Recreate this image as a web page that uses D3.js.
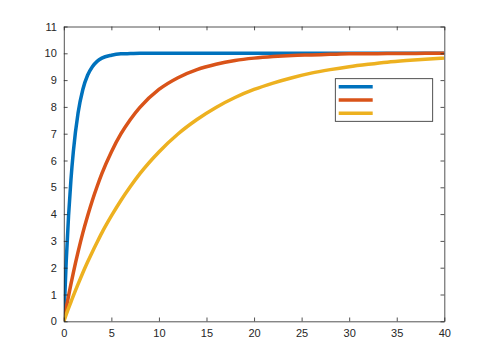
<!DOCTYPE html>
<html><head><meta charset="utf-8">
<script src="https://cdn.jsdelivr.net/npm/d3@7"></script>
<style>body{margin:0;background:#fff}svg{display:block}</style>
</head><body>
<script>
const tValues = [0,0.25,0.5,0.75,1,1.5,2,2.5,3,3.5,4,5,6,7,8,10,12,14,16,18,20,22,24,26,28,30,32,34,36,38,40];
const blueValues = [0,2.21,3.93,5.28,6.32,7.77,8.65,9.18,9.50,9.70,9.82,9.93,9.98,9.99,10,10,10,10,10,10,10,10,10,10,10,10,10,10,10,10,10];
const redValues = [0,0.49,0.95,1.39,1.81,2.59,3.30,3.93,4.51,5.03,5.51,6.32,6.99,7.53,7.98,8.65,9.09,9.39,9.59,9.73,9.82,9.88,9.92,9.94,9.96,9.98,9.98,9.99,9.99,10,10];
const yellowValues = [0,0.25,0.49,0.72,0.95,1.39,1.81,2.21,2.59,2.95,3.30,3.93,4.51,5.03,5.51,6.32,6.99,7.53,7.98,8.35,8.65,8.89,9.09,9.26,9.39,9.50,9.59,9.67,9.73,9.78,9.82];
const seriesNames = ["", "", ""];
const seriesColors = ["#0072BD", "#D95319", "#EDB120"];
const xTicks = [0,5,10,15,20,25,30,35,40];
const yTicks = [0,1,2,3,4,5,6,7,8,9,10,11];

const W = 491, H = 361;
const L = 63.8, R = 444.3, T = 26.5, B = 321.3;
const svg = d3.select("body").append("svg").attr("width", W).attr("height", H);
const x = d3.scaleLinear().domain([0, 40]).range([L, R]);
const y = d3.scaleLinear().domain([0, 11]).range([B, T]);
const axisColor = "#262626";
const font = "'Liberation Sans', Arial, Helvetica, sans-serif";

svg.append("rect").attr("x", L).attr("y", T).attr("width", R - L).attr("height", B - T).attr("fill", "#fff");

const clip = svg.append("clipPath").attr("id", "clip").append("rect")
  .attr("x", L).attr("y", T - 2).attr("width", R - L).attr("height", B - T + 4);

const allSeries = [blueValues, redValues, yellowValues];
const line = d3.line().x(d => x(d[0])).y(d => y(d[1])).curve(d3.curveMonotoneX);
const g = svg.append("g").attr("clip-path", "url(#clip)");
allSeries.forEach((vals, i) => {
  g.append("path").datum(tValues.map((t, j) => [t, vals[j]]))
    .attr("d", line).attr("fill", "none").attr("stroke", seriesColors[i])
    .attr("stroke-width", 3.5).attr("stroke-linejoin", "round").attr("stroke-linecap", "butt");
});

const tickLen = 3.8;
function styleAxis(sel) {
  sel.selectAll(".domain").attr("stroke", axisColor).attr("stroke-width", 0.8);
  sel.selectAll(".tick line").attr("stroke", axisColor).attr("stroke-width", 0.8);
  sel.selectAll(".tick text").attr("fill", axisColor).style("font-family", font).style("font-size", "11px");
}
const xAxis = svg.append("g").attr("transform", `translate(0,${B})`)
  .call(d3.axisBottom(x).tickValues(xTicks).tickSizeInner(-tickLen).tickSizeOuter(0).tickPadding(8));
styleAxis(xAxis);
const xTop = svg.append("g").attr("transform", `translate(0,${T})`)
  .call(d3.axisTop(x).tickValues(xTicks).tickSizeInner(-tickLen).tickSizeOuter(0).tickFormat(""));
styleAxis(xTop);
const yAxis = svg.append("g").attr("transform", `translate(${L},0)`)
  .call(d3.axisLeft(y).tickValues(yTicks).tickSizeInner(-tickLen).tickSizeOuter(0).tickPadding(7));
styleAxis(yAxis);
const yRight = svg.append("g").attr("transform", `translate(${R},0)`)
  .call(d3.axisRight(y).tickValues(yTicks).tickSizeInner(-tickLen).tickSizeOuter(0).tickFormat(""));
styleAxis(yRight);

// legend
const lg = svg.append("g");
lg.append("rect").attr("x", 335.3).attr("y", 78.7).attr("width", 97.4).attr("height", 42.6)
  .attr("fill", "#fff").attr("stroke", axisColor).attr("stroke-width", 0.8);
seriesNames.forEach((name, i) => {
  const ly = 86.7 + i * 13.3;
  lg.append("line").attr("x1", 338.7).attr("x2", 372.7).attr("y1", ly).attr("y2", ly)
    .attr("stroke", seriesColors[i]).attr("stroke-width", 3.5);
  lg.append("text").attr("x", 377).attr("y", ly + 4).text(name)
    .style("font-family", font).style("font-size", "11px").attr("fill", axisColor);
});
</script>
</body></html>
